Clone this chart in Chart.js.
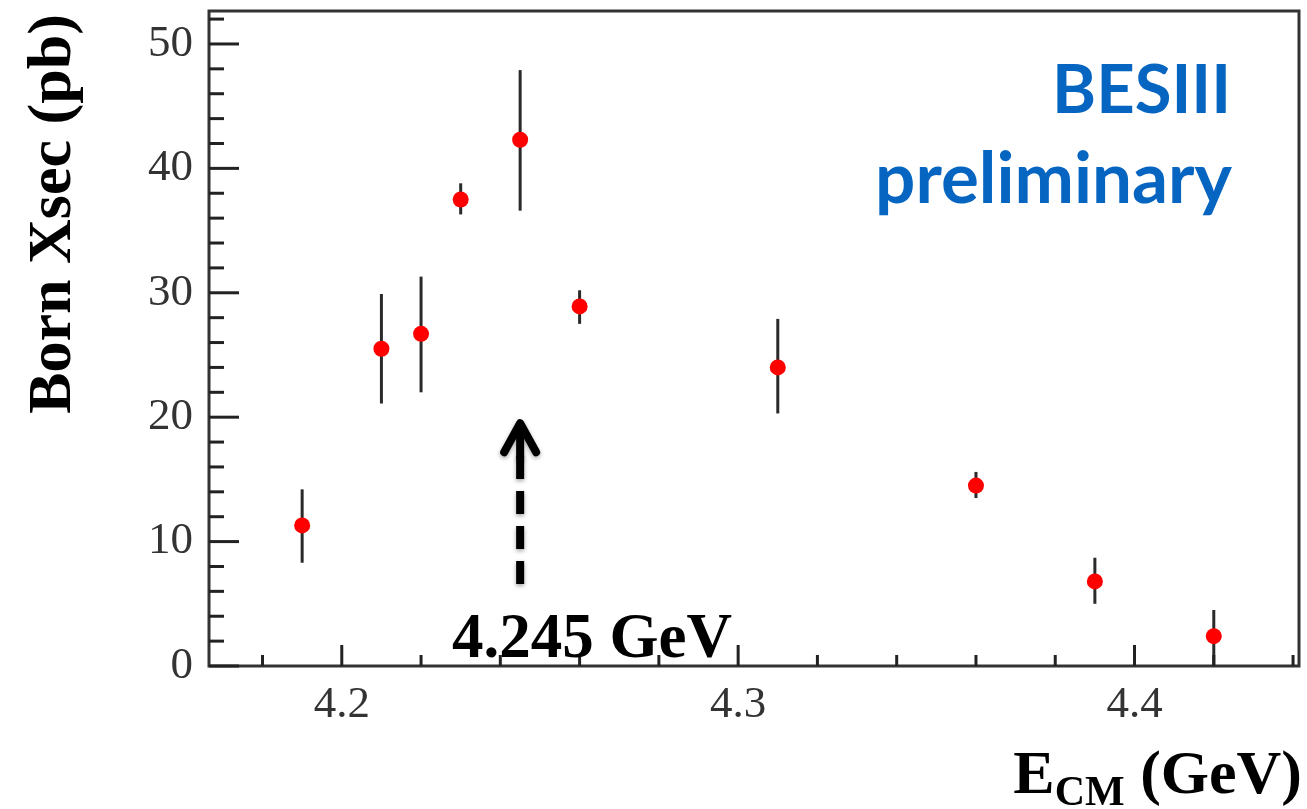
<!DOCTYPE html>
<html>
<head>
<meta charset="utf-8">
<script src="https://cdn.jsdelivr.net/npm/chart.js@4.4.0/dist/chart.umd.min.js"></script>
<style>
  html, body { margin: 0; padding: 0; background: #fff; }
  #wrap { width: 1307px; height: 809px; position: relative; }
</style>
</head>
<body>
<div id="wrap"><canvas id="xsec-chart" width="1307" height="809"></canvas></div>
<script>
// --- Data ---
const energies = [4.190, 4.210, 4.220, 4.230, 4.245, 4.260, 4.310, 4.360, 4.390, 4.420];
const xsecValues = [11.3, 25.5, 26.7, 37.5, 42.3, 28.9, 24.0, 14.5, 6.8, 2.4];
const xsecUpper = [14.2, 29.9, 31.3, 38.8, 47.9, 30.2, 27.9, 15.6, 8.7, 4.5];
const xsecLower = [8.3, 21.1, 22.0, 36.3, 36.6, 27.5, 20.3, 13.5, 5.0, 0.0];

const xMajorTicks = [4.2, 4.3, 4.4];
const xMinorTicks = [4.18, 4.22, 4.24, 4.26, 4.28, 4.32, 4.34, 4.36, 4.38, 4.42, 4.44];
const yMajorTicks = [0, 10, 20, 30, 40, 50];
const yMinorTicks = [2, 4, 6, 8, 12, 14, 16, 18, 22, 24, 26, 28, 32, 34, 36, 38, 42, 44, 46, 48, 52];

// arrow marking 4.245 GeV (data units)
const arrowEnergy = 4.245;
const arrowFrom = 6.6;
const arrowTo = 19.75;
const arrowLabel = '4.245 GeV';

const X_MIN = 4.1665, X_MAX = 4.4415;
const Y_MIN = 0, Y_MAX = 52.65;

const serif = '"Liberation Serif", "DejaVu Serif", serif';

// --- Extra drawing: frame, inner ticks, error bars, arrow, labels ---
const decorPlugin = {
    id: 'decor',
    beforeDatasetsDraw(chart) {
        const { ctx, scales: { x, y } } = chart;
        ctx.save();
        // error bars
        ctx.strokeStyle = '#2a2a2a';
        ctx.lineWidth = 3;
        energies.forEach((e, i) => {
            const px = x.getPixelForValue(e);
            ctx.beginPath();
            ctx.moveTo(px, y.getPixelForValue(xsecUpper[i]));
            ctx.lineTo(px, y.getPixelForValue(xsecLower[i]));
            ctx.stroke();
        });
        ctx.restore();
    },
    afterDraw(chart) {
        const { ctx, chartArea: a, scales: { x, y } } = chart;
        ctx.save();

        // frame
        ctx.strokeStyle = '#333';
        ctx.lineWidth = 3;
        ctx.strokeRect(a.left, a.top, a.right - a.left, a.bottom - a.top);

        // ticks inside
        ctx.lineWidth = 3;
        ctx.strokeStyle = '#222';
        const yTick = (v, len) => {
            const py = y.getPixelForValue(v);
            ctx.beginPath(); ctx.moveTo(a.left, py); ctx.lineTo(a.left + len, py); ctx.stroke();
        };
        const xTick = (v, len) => {
            const px = x.getPixelForValue(v);
            ctx.beginPath(); ctx.moveTo(px, a.bottom); ctx.lineTo(px, a.bottom - len); ctx.stroke();
        };
        yMajorTicks.forEach(v => yTick(v, 30));
        yMinorTicks.forEach(v => yTick(v, 15));
        xMajorTicks.forEach(v => xTick(v, 21));
        xMinorTicks.forEach(v => xTick(v, 11));

        // dashed arrow
        const ax = x.getPixelForValue(arrowEnergy);
        const yTip = y.getPixelForValue(arrowTo);
        const yBase = y.getPixelForValue(arrowFrom);
        ctx.shadowColor = 'rgba(0,0,0,0.35)';
        ctx.shadowBlur = 4;
        ctx.shadowOffsetY = 2;
        ctx.strokeStyle = '#000';
        ctx.lineWidth = 8;
        ctx.setLineDash([23, 12]);
        ctx.beginPath();
        ctx.moveTo(ax, yBase);
        ctx.lineTo(ax, yTip + 30);
        ctx.stroke();
        ctx.setLineDash([]);
        ctx.lineWidth = 8;
        ctx.lineCap = 'round';
        ctx.lineJoin = 'round';
        ctx.beginPath();
        ctx.moveTo(ax - 16, yTip + 32);
        ctx.lineTo(ax, yTip + 3);
        ctx.lineTo(ax + 16, yTip + 32);
        ctx.stroke();
        ctx.beginPath();
        ctx.moveTo(ax, yTip + 5);
        ctx.lineTo(ax, yTip + 36);
        ctx.stroke();
        ctx.shadowColor = 'transparent';

        // arrow label
        ctx.fillStyle = '#000';
        ctx.font = 'bold 63px ' + serif;
        ctx.textAlign = 'left';
        ctx.textBaseline = 'alphabetic';
        ctx.fillText(arrowLabel, 452, 657);

        // BESIII preliminary
        ctx.fillStyle = '#0565c0';
        ctx.textAlign = 'right';
        ctx.font = 'bold 67px Lato, "Open Sans", sans-serif';
        ctx.fillText('BESIII', 1231, 113);
        ctx.font = 'bold 71px Lato, "Open Sans", sans-serif';
        ctx.fillText('preliminary', 1232, 203);

        // y axis title
        ctx.fillStyle = '#000';
        ctx.font = 'bold 62px ' + serif;
        ctx.save();
        ctx.translate(70, 214);
        ctx.rotate(-Math.PI / 2);
        ctx.textAlign = 'center';
        ctx.fillText('Born Xsec (pb)', 0, 0);
        ctx.restore();

        // x axis title with subscript
        ctx.textAlign = 'left';
        const rest = ' (GeV)';
        ctx.font = 'bold 42px ' + serif;
        const wSub = ctx.measureText('CM').width;
        ctx.font = 'bold 62px ' + serif;
        const wE = ctx.measureText('E').width;
        const wRest = ctx.measureText(rest).width;
        let tx = 1302 - (wE + wSub + wRest);
        ctx.fillText('E', tx, 793);
        tx += wE;
        ctx.font = 'bold 42px ' + serif;
        ctx.fillText('CM', tx, 805);
        tx += wSub;
        ctx.font = 'bold 62px ' + serif;
        ctx.fillText(rest, tx, 793);

        ctx.restore();
    }
};

const ctx = document.getElementById('xsec-chart').getContext('2d');
new Chart(ctx, {
    type: 'scatter',
    data: {
        datasets: [{
            label: 'Born Xsec',
            data: energies.map((e, i) => ({ x: e, y: xsecValues[i] })),
            backgroundColor: '#ff0000',
            borderColor: '#ff0000',
            borderWidth: 0,
            pointRadius: 8,
            pointHoverRadius: 8
        }]
    },
    options: {
        responsive: false,
        animation: false,
        events: [],
        layout: { padding: { top: 11, right: 6, left: 0, bottom: 0 } },
        plugins: { legend: { display: false }, tooltip: { enabled: false } },
        scales: {
            x: {
                type: 'linear',
                min: X_MIN,
                max: X_MAX,
                afterBuildTicks: (s) => { s.ticks = xMajorTicks.map(v => ({ value: v })); },
                afterFit: (s) => { s.height = 143; s.paddingLeft = 0; s.paddingRight = 0; },
                grid: { display: false, drawTicks: false },
                border: { display: false },
                ticks: {
                    color: '#333',
                    padding: 12,
                    maxRotation: 0,
                    font: { family: serif, size: 45 },
                    callback: (v) => v.toFixed(1)
                }
            },
            y: {
                type: 'linear',
                min: Y_MIN,
                max: Y_MAX,
                afterBuildTicks: (s) => { s.ticks = yMajorTicks.map(v => ({ value: v })); },
                afterFit: (s) => { s.width = 209; s.paddingTop = 0; s.paddingBottom = 0; },
                grid: { display: false, drawTicks: false },
                border: { display: false },
                ticks: {
                    color: '#333',
                    padding: 16,
                    font: { family: serif, size: 45 },
                    callback: (v) => String(v)
                }
            }
        }
    },
    plugins: [decorPlugin]
});
</script>
</body>
</html>
